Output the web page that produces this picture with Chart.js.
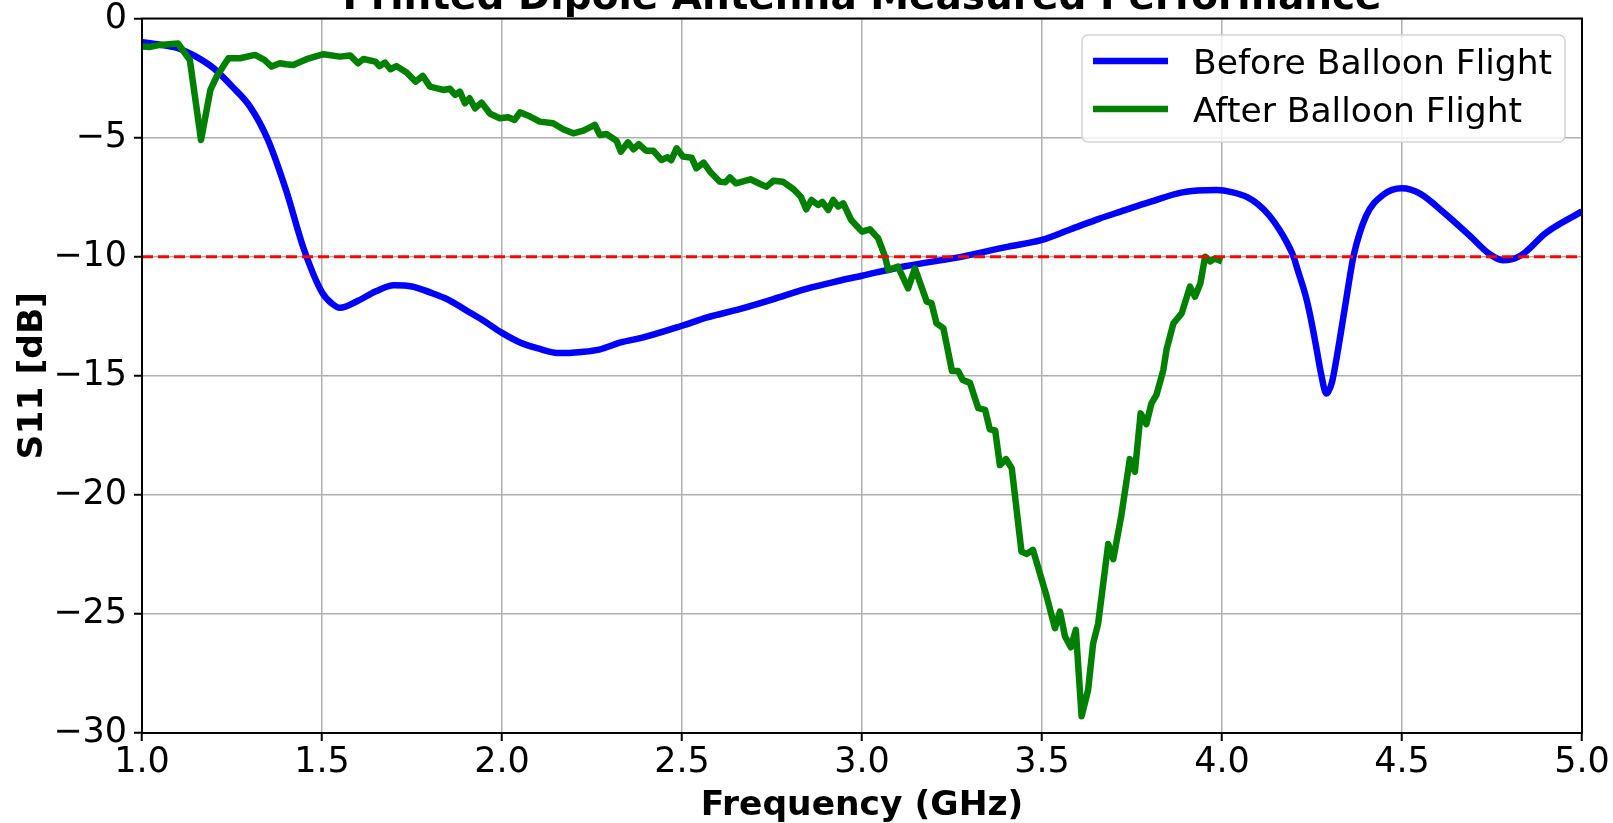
<!DOCTYPE html>
<html lang="en">
<head>
    <meta charset="UTF-8">
    <title>Printed Dipole Antenna Measured Performance</title>
    <script src="https://cdn.jsdelivr.net/npm/chart.js"></script>
    <style>
        body {
            margin: 0;
            background: #ffffff;
        }

        .chart-box {
            width: 1613px;
            height: 823px;
        }
    </style>
</head>
<body>
    <div class="chart-box">
        <canvas id="s11Chart" width="1613" height="823"></canvas>
    </div>

    <script>
        // Before balloon flight (blue)
        const beforeFreq = [1.0, 1.05, 1.1, 1.15, 1.2, 1.25, 1.3, 1.35, 1.4, 1.45, 1.5, 1.53, 1.55, 1.6, 1.65, 1.7, 1.75, 1.8, 1.85, 1.9, 1.95, 2.0, 2.05, 2.1, 2.16, 2.22, 2.27, 2.33, 2.39, 2.5, 2.57, 2.66, 2.75, 2.845, 2.94, 3.0, 3.12, 3.26, 3.4, 3.5, 3.58, 3.66, 3.72, 3.8, 3.89, 3.985, 4.03, 4.07, 4.1, 4.13, 4.16, 4.18, 4.198, 4.21, 4.235, 4.25, 4.263, 4.275, 4.29, 4.305, 4.319, 4.33, 4.346, 4.355, 4.365, 4.4, 4.448, 4.5, 4.55, 4.62, 4.69, 4.744, 4.78, 4.83, 4.9, 5.0];
        const beforeS11 = [-1.0, -1.1, -1.25, -1.6, -2.1, -2.85, -3.7, -5.1, -7.2, -9.7, -11.5, -12.0, -12.15, -11.85, -11.45, -11.2, -11.25, -11.5, -11.8, -12.25, -12.7, -13.2, -13.6, -13.85, -14.05, -14.0, -13.9, -13.6, -13.4, -12.9, -12.55, -12.2, -11.8, -11.35, -11.0, -10.8, -10.4, -10.05, -9.6, -9.3, -8.85, -8.4, -8.1, -7.7, -7.3, -7.2, -7.3, -7.5, -7.8, -8.25, -8.88, -9.4, -9.97, -10.55, -11.8, -12.85, -13.9, -14.9, -15.75, -15.3, -14.2, -13.2, -11.7, -10.85, -10.0, -8.3, -7.4, -7.13, -7.35, -8.2, -9.15, -9.9, -10.15, -9.95, -9.0, -8.1];

        // After balloon flight (green)
        const afterFreq = [1.0, 1.02, 1.05, 1.1, 1.133, 1.164, 1.19, 1.207, 1.24, 1.272, 1.314, 1.34, 1.36, 1.383, 1.4, 1.42, 1.457, 1.504, 1.55, 1.578, 1.6, 1.615, 1.648, 1.66, 1.675, 1.69, 1.707, 1.735, 1.76, 1.78, 1.8, 1.837, 1.855, 1.87, 1.883, 1.897, 1.91, 1.925, 1.943, 1.967, 1.994, 2.017, 2.035, 2.05, 2.073, 2.105, 2.142, 2.17, 2.198, 2.226, 2.258, 2.272, 2.29, 2.318, 2.33, 2.35, 2.365, 2.38, 2.4, 2.42, 2.443, 2.46, 2.47, 2.485, 2.503, 2.527, 2.54, 2.56, 2.578, 2.605, 2.62, 2.633, 2.65, 2.69, 2.717, 2.735, 2.754, 2.78, 2.81, 2.83, 2.845, 2.86, 2.878, 2.89, 2.906, 2.92, 2.934, 2.948, 2.97, 3.0, 3.022, 3.045, 3.064, 3.073, 3.1, 3.128, 3.147, 3.18, 3.193, 3.207, 3.226, 3.25, 3.267, 3.28, 3.3, 3.323, 3.342, 3.355, 3.37, 3.383, 3.4, 3.416, 3.443, 3.457, 3.475, 3.513, 3.536, 3.55, 3.564, 3.58, 3.594, 3.61, 3.628, 3.642, 3.656, 3.684, 3.698, 3.72, 3.744, 3.758, 3.774, 3.79, 3.804, 3.818, 3.837, 3.846, 3.865, 3.888, 3.911, 3.925, 3.94, 3.953, 3.967, 3.98, 4.0];
        const afterS11 = [-1.18, -1.2, -1.11, -1.05, -1.75, -5.1, -3.0, -2.45, -1.67, -1.67, -1.53, -1.74, -2.02, -1.88, -1.92, -1.95, -1.71, -1.5, -1.6, -1.55, -1.88, -1.7, -1.81, -2.0, -1.85, -2.13, -2.0, -2.27, -2.65, -2.41, -2.86, -3.0, -2.95, -3.21, -3.07, -3.56, -3.35, -3.77, -3.53, -4.0, -4.19, -4.15, -4.26, -3.94, -4.08, -4.33, -4.4, -4.65, -4.82, -4.71, -4.47, -4.89, -4.85, -5.13, -5.59, -5.2, -5.49, -5.28, -5.55, -5.55, -5.94, -5.83, -5.95, -5.45, -5.8, -5.85, -6.29, -6.05, -6.43, -6.85, -6.88, -6.67, -6.92, -6.75, -6.95, -7.06, -6.81, -6.85, -7.17, -7.48, -8.01, -7.62, -7.83, -7.7, -8.04, -7.62, -7.9, -7.76, -8.46, -8.95, -8.85, -9.23, -10.0, -10.56, -10.42, -11.33, -10.49, -11.89, -11.95, -12.8, -13.0, -14.8, -14.8, -15.18, -15.3, -16.36, -16.43, -17.25, -17.3, -18.75, -18.5, -18.88, -22.38, -22.48, -22.31, -24.27, -25.6, -24.9, -25.95, -26.4, -25.67, -29.3, -28.2, -26.24, -25.4, -22.06, -22.7, -20.9, -18.5, -19.03, -16.58, -17.03, -16.16, -15.8, -14.76, -13.9, -12.8, -12.38, -11.26, -11.68, -11.12, -10.0, -10.2, -10.08, -10.2];

        // -10 dB reference line
        const limitFreq = [1.0, 5.0];
        const limitS11 = [-10, -10];

        const seriesLabels = ['Before Balloon Flight', 'After Balloon Flight'];
        const seriesColors = ['#0000ff', '#008000'];
        const chartTitle = 'Printed Dipole Antenna Measured Performance';

        const toPoints = (xs, ys) => xs.map((x, i) => ({ x: x, y: ys[i] }));

        Chart.defaults.font.family = "'DejaVu Sans', sans-serif";
        Chart.defaults.color = '#000000';

        // title sits mostly above the canvas, like the cropped original
        const titlePlugin = {
            id: 'cutTitle',
            afterDraw(chart) {
                const ctx = chart.ctx;
                const area = chart.chartArea;
                ctx.save();
                ctx.font = "bold 39px 'DejaVu Sans'";
                ctx.fillStyle = '#000000';
                ctx.textAlign = 'center';
                ctx.textBaseline = 'alphabetic';
                ctx.fillText(chartTitle, (area.left + area.right) / 2, 8.5);
                ctx.restore();
            }
        };

        // black box around the plot area
        const framePlugin = {
            id: 'frame',
            afterDatasetsDraw(chart) {
                const ctx = chart.ctx;
                const a = chart.chartArea;
                ctx.save();
                ctx.strokeStyle = '#000000';
                ctx.lineWidth = 2;
                ctx.strokeRect(a.left, a.top, a.right - a.left, a.bottom - a.top);
                ctx.restore();
            }
        };

        // legend box in the upper right corner of the plot
        const legendPlugin = {
            id: 'boxLegend',
            afterDraw(chart) {
                const ctx = chart.ctx;
                const left = 1082, top = 35, width = 483, height = 107;
                ctx.save();
                ctx.beginPath();
                ctx.roundRect(left, top, width, height, 6);
                ctx.fillStyle = 'rgba(255, 255, 255, 0.8)';
                ctx.fill();
                ctx.strokeStyle = '#d4d4d4';
                ctx.lineWidth = 1.5;
                ctx.stroke();

                ctx.font = "34.5px 'DejaVu Sans'";
                ctx.textBaseline = 'middle';
                ctx.textAlign = 'left';
                seriesLabels.forEach((label, i) => {
                    const y = 61 + i * 48;
                    ctx.beginPath();
                    ctx.moveTo(1093, y);
                    ctx.lineTo(1168, y);
                    ctx.strokeStyle = seriesColors[i];
                    ctx.lineWidth = 6.5;
                    ctx.stroke();
                    ctx.fillStyle = '#000000';
                    ctx.fillText(label, 1193, y + 4);
                });
                ctx.restore();
            }
        };

        const ctx = document.getElementById('s11Chart').getContext('2d');

        new Chart(ctx, {
            type: 'line',
            data: {
                datasets: [
                    {
                        label: 'limit',
                        data: toPoints(limitFreq, limitS11),
                        borderColor: '#ff0000',
                        borderWidth: 3,
                        borderDash: [11, 5],
                        pointRadius: 0,
                        order: 0
                    },
                    {
                        label: seriesLabels[1],
                        data: toPoints(afterFreq, afterS11),
                        borderColor: seriesColors[1],
                        borderWidth: 6.5,
                        borderJoinStyle: 'round',
                        pointRadius: 0,
                        tension: 0,
                        order: 1
                    },
                    {
                        label: seriesLabels[0],
                        data: toPoints(beforeFreq, beforeS11),
                        borderColor: seriesColors[0],
                        borderWidth: 6.5,
                        borderJoinStyle: 'round',
                        pointRadius: 0,
                        cubicInterpolationMode: 'monotone',
                        order: 2
                    }
                ]
            },
            options: {
                responsive: false,
                animation: false,
                layout: {
                    padding: { left: 0, right: 31, top: 18.5, bottom: 0 }
                },
                plugins: {
                    legend: { display: false },
                    title: { display: false },
                    tooltip: { enabled: false }
                },
                scales: {
                    x: {
                        type: 'linear',
                        min: 1.0,
                        max: 5.0,
                        afterFit: (s) => {
                            s.height = 90;
                            s.paddingLeft = 0;
                            s.paddingRight = 0;
                        },
                        ticks: {
                            stepSize: 0.5,
                            padding: 1,
                            maxRotation: 0,
                            font: { size: 35 },
                            callback: (v) => v.toFixed(1)
                        },
                        grid: {
                            color: '#b0b0b0',
                            lineWidth: 1.5,
                            tickColor: '#000000',
                            tickWidth: 2,
                            tickLength: 8
                        },
                        border: { color: '#000000', width: 2 },
                        title: {
                            display: true,
                            text: 'Frequency (GHz)',
                            font: { size: 34.5, weight: 'bold', lineHeight: 1 },
                            padding: { top: 0, bottom: 0 }
                        }
                    },
                    y: {
                        min: -30,
                        max: 0,
                        afterFit: (s) => {
                            s.width = 142;
                            s.paddingTop = 0;
                            s.paddingBottom = 0;
                        },
                        ticks: {
                            stepSize: 5,
                            padding: 7,
                            font: { size: 35 },
                            callback: (v) => v < 0 ? '\u2212' + Math.abs(v) : String(v)
                        },
                        grid: {
                            color: '#b0b0b0',
                            lineWidth: 1.5,
                            tickColor: '#000000',
                            tickWidth: 2,
                            tickLength: 8
                        },
                        border: { color: '#000000', width: 2 },
                        title: {
                            display: true,
                            text: 'S11 [dB]',
                            font: { size: 34.5, weight: 'bold', lineHeight: 1 },
                            padding: { top: 15.5, bottom: 0 }
                        }
                    }
                }
            },
            plugins: [framePlugin, legendPlugin, titlePlugin]
        });
    </script>
</body>
</html>
